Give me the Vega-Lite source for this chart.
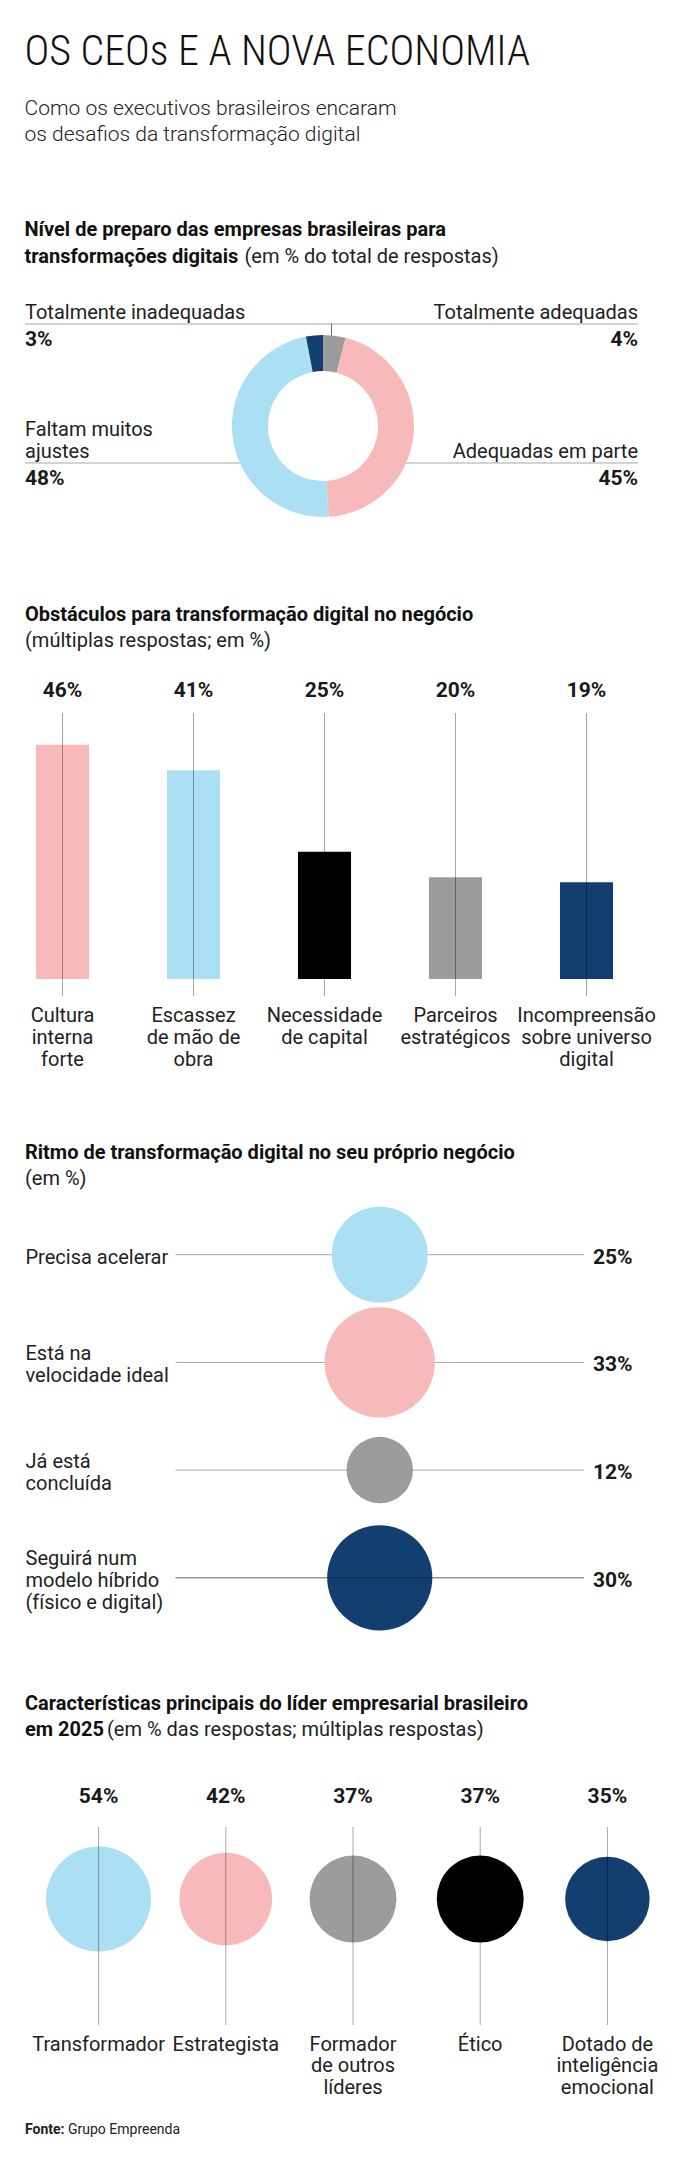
{
  "$schema": "https://vega.github.io/schema/vega-lite/v6.json",
  "background": "white",
  "padding": {"left": 24, "right": 24, "top": 30, "bottom": 10},
  "spacing": 30,
  "resolve": {"scale": {"color": "independent", "size": "independent"}},
  "config": {
    "view": {"stroke": null},
    "font": "Roboto",
    "text": {"font": "Roboto", "color": "#1a1a1a"},
    "axis": {"labelFont": "Roboto", "titleFont": "Roboto"}
  },
  "title": {
    "text": "OS CEOs E A NOVA ECONOMIA",
    "subtitle": ["Como os executivos brasileiros encaram", "os desafios da transformação digital"],
    "anchor": "start",
    "frame": "bounds",
    "font": "Roboto Condensed, Liberation Sans Narrow, DejaVu Sans Condensed, sans-serif",
    "fontSize": 42,
    "fontWeight": 300,
    "color": "#111111",
    "subtitleFont": "Roboto",
    "subtitleFontSize": 21,
    "subtitleFontWeight": 300,
    "subtitleColor": "#222222",
    "subtitleLineHeight": 26.5,
    "subtitlePadding": 24,
    "offset": 74
  },
  "vconcat": [
    {
      "title": {
        "text": ["Nível de preparo das empresas brasileiras para", "transformações digitais"],
        "anchor": "start", "frame": "bounds",
        "font": "Roboto", "fontSize": 20, "fontWeight": "bold", "lineHeight": 27, "color": "#111111",
        "offset": -20
      },
      "vconcat": [
        {
          "width": 596,
          "height": 296,
          "title": {
            "text": "(em % do total de respostas)",
            "anchor": "start", "frame": "bounds", "dx": 220,
            "font": "Roboto", "fontSize": 20, "fontWeight": "normal", "color": "#222222",
            "offset": 11
          },
          "data": {"values": [
            {"categoria": "Totalmente adequadas", "valor": 0.04, "lado": "direita", "nivel": "cima"},
            {"categoria": "Adequadas em parte", "valor": 0.45, "lado": "direita", "nivel": "baixo"},
            {"categoria": "Faltam muitos\najustes", "valor": 0.48, "lado": "esquerda", "nivel": "baixo"},
            {"categoria": "Totalmente inadequadas", "valor": 0.03, "lado": "esquerda", "nivel": "cima"}
          ]},
          "transform": [{"window": [{"op": "row_number", "as": "idx"}]}],
          "layer": [
            {
              "mark": {"type": "rule", "color": "#000000", "opacity": 0.35, "strokeWidth": 1},
              "encoding": {
                "x": {"field": "lado", "type": "nominal", "scale": {"type": "point", "domain": ["esquerda", "centro", "direita"], "range": [0, 613], "padding": 0}, "axis": null},
                "x2": {"datum": "centro"},
                "y": {"field": "nivel", "type": "nominal", "scale": {"type": "point", "domain": ["cima", "baixo"], "range": [46, 185], "padding": 0}, "axis": null}
              }
            },
            {
              "transform": [{"filter": {"field": "nivel", "equal": "cima"}}],
              "mark": {"type": "rule", "color": "#000000", "opacity": 0.35, "strokeWidth": 1},
              "encoding": {
                "x": {"datum": "centro", "type": "nominal", "axis": null},
                "y": {"field": "nivel", "type": "nominal", "axis": null},
                "y2": {"datum": "baixo"}
              }
            },
            {
              "data": {"values": [{"furo": "centro"}]},
              "mark": {"type": "point", "filled": true, "color": "white", "opacity": 1, "size": 12544, "strokeWidth": 0},
              "encoding": {}
            },
            {
              "mark": {"type": "arc", "innerRadius": 55, "outerRadius": 91, "strokeWidth": 0},
              "encoding": {
                "theta": {"field": "valor", "type": "quantitative", "stack": true},
                "order": {"field": "idx", "type": "quantitative"},
                "color": {"field": "categoria", "type": "nominal", "legend": null,
                  "scale": {"domain": ["Totalmente adequadas", "Adequadas em parte", "Faltam muitos\najustes", "Totalmente inadequadas"],
                            "range": ["#9c9c9c", "#f8b9bb", "#abdff4", "#133e70"]}}
              }
            },
            {
              "transform": [{"filter": {"field": "lado", "equal": "esquerda"}}],
              "mark": {"type": "text", "align": "left", "baseline": "bottom", "lineBreak": "\n", "lineHeight": 22, "fontSize": 20, "color": "#222222",
                       "dy": {"expr": "-1 - 22 * (length(split(datum.categoria, '\\n')) - 1)"}},
              "encoding": {
                "x": {"field": "lado", "type": "nominal", "axis": null},
                "y": {"field": "nivel", "type": "nominal", "axis": null},
                "text": {"field": "categoria", "type": "nominal"}
              }
            },
            {
              "transform": [{"filter": {"field": "lado", "equal": "esquerda"}}],
              "mark": {"type": "text", "align": "left", "baseline": "top", "fontSize": 21, "fontWeight": "bold", "dy": 5},
              "encoding": {
                "x": {"field": "lado", "type": "nominal", "axis": null},
                "y": {"field": "nivel", "type": "nominal", "axis": null},
                "text": {"field": "valor", "type": "quantitative", "format": ".0%"}
              }
            },
            {
              "transform": [{"filter": {"field": "lado", "equal": "direita"}}],
              "mark": {"type": "text", "align": "right", "baseline": "bottom", "lineBreak": "\n", "lineHeight": 22, "fontSize": 20, "color": "#222222",
                       "dy": {"expr": "-1 - 22 * (length(split(datum.categoria, '\\n')) - 1)"}},
              "encoding": {
                "x": {"field": "lado", "type": "nominal", "axis": null},
                "y": {"field": "nivel", "type": "nominal", "axis": null},
                "text": {"field": "categoria", "type": "nominal"}
              }
            },
            {
              "transform": [{"filter": {"field": "lado", "equal": "direita"}}],
              "mark": {"type": "text", "align": "right", "baseline": "top", "fontSize": 21, "fontWeight": "bold", "dy": 5},
              "encoding": {
                "x": {"field": "lado", "type": "nominal", "axis": null},
                "y": {"field": "nivel", "type": "nominal", "axis": null},
                "text": {"field": "valor", "type": "quantitative", "format": ".0%"}
              }
            }
          ]
        }
      ]
    },
    {
      "width": 641,
      "height": 433,
      "title": {
        "text": "Obstáculos para transformação digital no negócio",
        "subtitle": "(múltiplas respostas; em %)",
        "anchor": "start", "frame": "bounds",
        "font": "Roboto", "fontSize": 20, "fontWeight": "bold", "lineHeight": 27, "color": "#111111",
        "subtitleFont": "Roboto", "subtitleFontSize": 20, "subtitleFontWeight": "normal", "subtitleColor": "#222222",
        "subtitlePadding": 6, "offset": 29
      },
      "data": {"values": [
        {"categoria": "Cultura\ninterna\nforte", "valor": 0.46},
        {"categoria": "Escassez\nde mão de\nobra", "valor": 0.41},
        {"categoria": "Necessidade\nde capital", "valor": 0.25},
        {"categoria": "Parceiros\nestratégicos", "valor": 0.20},
        {"categoria": "Incompreensão\nsobre universo\ndigital", "valor": 0.19}
      ]},
      "encoding": {
        "x": {"field": "categoria", "type": "nominal", "sort": null, "scale": {"type": "band", "range": [-28, 627], "paddingInner": 0, "paddingOuter": 0}, "axis": null}
      },
      "layer": [
        {
          "mark": {"type": "bar", "width": {"band": 0.405}},
          "encoding": {
            "y": {"field": "valor", "type": "quantitative", "scale": {"domain": [-0.2633, 0.5874], "nice": false, "zero": false}, "axis": null},
            "y2": {"datum": 0},
            "color": {"field": "categoria", "type": "nominal", "legend": null, "sort": null,
              "scale": {"domain": ["Cultura\ninterna\nforte", "Escassez\nde mão de\nobra", "Necessidade\nde capital", "Parceiros\nestratégicos", "Incompreensão\nsobre universo\ndigital"],
                        "range": ["#f8b9bb", "#abdff4", "#000000", "#9c9c9c", "#133e70"]}}
          }
        },
        {
          "mark": {"type": "rule", "color": "#000000", "opacity": 0.35, "strokeWidth": 1},
          "encoding": {"y": {"datum": 0.5226, "axis": null}, "y2": {"datum": -0.0334}}
        },
        {
          "mark": {"type": "text", "baseline": "middle", "fontSize": 21, "fontWeight": "bold"},
          "encoding": {"y": {"datum": 0.566, "axis": null}, "text": {"field": "valor", "type": "quantitative", "format": ".0%"}}
        },
        {
          "mark": {"type": "text", "baseline": "top", "lineBreak": "\n", "lineHeight": 22, "fontSize": 20, "color": "#222222"},
          "encoding": {"y": {"datum": -0.053, "axis": null}, "text": {"field": "categoria", "type": "nominal"}}
        }
      ]
    },
    {
      "title": {
        "text": "Ritmo de transformação digital no seu próprio negócio",
        "subtitle": "(em %)",
        "anchor": "start", "frame": "bounds",
        "font": "Roboto", "fontSize": 20, "fontWeight": "bold", "lineHeight": 27, "color": "#111111",
        "subtitleFont": "Roboto", "subtitleFontSize": 20, "subtitleFontWeight": "normal", "subtitleColor": "#222222",
        "subtitlePadding": 6, "offset": 6
      },
      "bounds": "flush",
      "spacing": 149.5,
      "data": {"values": [
        {"categoria": "Precisa acelerar", "valor": 0.25},
        {"categoria": "Está na\nvelocidade ideal", "valor": 0.33},
        {"categoria": "Já está\nconcluída", "valor": 0.12},
        {"categoria": "Seguirá num\nmodelo híbrido\n(físico e digital)", "valor": 0.30}
      ]},
      "hconcat": [
        {
          "width": 1,
          "height": 468,
          "mark": {"type": "text", "align": "left", "baseline": "middle", "lineBreak": "\n", "lineHeight": 22, "fontSize": 20, "color": "#222222",
                   "dy": {"expr": "3 - 11 * (length(split(datum.categoria, '\\n')) - 1)"}},
          "encoding": {
            "y": {"field": "categoria", "type": "nominal", "sort": null, "scale": {"type": "point", "range": [59.7, 382.8], "padding": 0}, "axis": null},
            "text": {"field": "categoria", "type": "nominal"}
          }
        },
        {
          "width": 408.5,
          "height": 468,
          "encoding": {
            "y": {"field": "categoria", "type": "nominal", "sort": null, "scale": {"type": "point", "range": [59.7, 382.8], "padding": 0}, "axis": null}
          },
          "layer": [
            {
              "mark": {"type": "rule", "color": "#000000", "opacity": 0.35, "strokeWidth": 1},
              "encoding": {}
            },
            {
              "mark": {"type": "circle", "opacity": 1, "strokeWidth": 0},
              "encoding": {
                "size": {"field": "valor", "type": "quantitative", "legend": null, "scale": {"type": "linear", "domain": [0, 1], "range": [0, 36864]}},
                "color": {"field": "categoria", "type": "nominal", "legend": null,
                  "scale": {"domain": ["Precisa acelerar", "Está na\nvelocidade ideal", "Já está\nconcluída", "Seguirá num\nmodelo híbrido\n(físico e digital)"],
                            "range": ["#abdff4", "#f8b9bb", "#9c9c9c", "#133e70"]}}
              }
            },
            {
              "transform": [{"filter": {"field": "categoria", "equal": "Seguirá num\nmodelo híbrido\n(físico e digital)"}}],
              "mark": {"type": "rule", "color": "#000000", "opacity": 0.35, "strokeWidth": 1},
              "encoding": {}
            },
            {
              "mark": {"type": "text", "align": "left", "baseline": "middle", "fontSize": 21, "fontWeight": "bold", "dx": 9, "dy": 3},
              "encoding": {
                "x": {"value": "width"},
                "text": {"field": "valor", "type": "quantitative", "format": ".0%"}
              }
            }
          ]
        }
      ]
    },
    {
      "title": {
        "text": "Grupo Empreenda",
        "orient": "bottom", "anchor": "start", "frame": "bounds", "dx": 43,
        "font": "Roboto", "fontSize": 14, "fontWeight": "normal", "color": "#222222",
        "offset": -14
      },
      "vconcat": [
        {
          "title": {
            "text": "Fonte:",
            "orient": "bottom", "anchor": "start", "frame": "bounds",
            "font": "Roboto", "fontSize": 14, "fontWeight": "bold", "color": "#222222",
            "offset": 26
          },
          "vconcat": [
            {
              "title": {
                "text": ["Características principais do líder empresarial brasileiro", "em 2025"],
                "anchor": "start", "frame": "bounds",
                "font": "Roboto", "fontSize": 20, "fontWeight": "bold", "lineHeight": 26.5, "color": "#111111",
                "offset": -20
              },
              "vconcat": [
                {
                  "width": 641,
                  "height": 255,
                  "title": {
                    "text": "(em % das respostas; múltiplas respostas)",
                    "anchor": "start", "frame": "bounds", "dx": 82,
                    "font": "Roboto", "fontSize": 20, "fontWeight": "normal", "color": "#222222",
                    "offset": 30
                  },
                  "data": {"values": [
                    {"categoria": "Transformador", "valor": 0.54},
                    {"categoria": "Estrategista", "valor": 0.42},
                    {"categoria": "Formador\nde outros\nlíderes", "valor": 0.37},
                    {"categoria": "Ético", "valor": 0.37},
                    {"categoria": "Dotado de\ninteligência\nemocional", "valor": 0.35}
                  ]},
                  "encoding": {
                    "x": {"field": "categoria", "type": "nominal", "sort": null,
                      "scale": {"type": "band", "range": [10, 646], "paddingInner": 0, "paddingOuter": 0},
                      "axis": {"orient": "bottom", "domain": false, "ticks": false, "tickSize": 0, "grid": false,
                               "labelAngle": 0, "labelPadding": 9, "labelBaseline": "top", "labelFontSize": 20, "labelLineHeight": 21.5,
                               "labelColor": "#222222", "labelLimit": 0, "labelExpr": "split(datum.label, '\\n')",
                               "title": null}}
                  },
                  "layer": [
                    {
                      "mark": {"type": "circle", "opacity": 1, "strokeWidth": 0},
                      "encoding": {
                        "y": {"datum": 0.494, "scale": {"domain": [0, 1], "nice": false, "zero": false}, "axis": null},
                        "size": {"field": "valor", "type": "quantitative", "legend": null, "scale": {"type": "linear", "domain": [0, 1], "range": [0, 20417]}},
                        "color": {"field": "categoria", "type": "nominal", "legend": null,
                          "scale": {"domain": ["Transformador", "Estrategista", "Formador\nde outros\nlíderes", "Ético", "Dotado de\ninteligência\nemocional"],
                                    "range": ["#abdff4", "#f8b9bb", "#9c9c9c", "#000000", "#133e70"]}}
                      }
                    },
                    {
                      "mark": {"type": "rule", "color": "#000000", "opacity": 0.35, "strokeWidth": 1},
                      "encoding": {"y": {"datum": 0.7765, "axis": null}, "y2": {"datum": 0}}
                    },
                    {
                      "mark": {"type": "text", "baseline": "middle", "fontSize": 21, "fontWeight": "bold"},
                      "encoding": {"y": {"datum": 0.894, "axis": null}, "text": {"field": "valor", "type": "quantitative", "format": ".0%"}}
                    }
                  ]
                }
              ]
            }
          ]
        }
      ]
    }
  ]
}
